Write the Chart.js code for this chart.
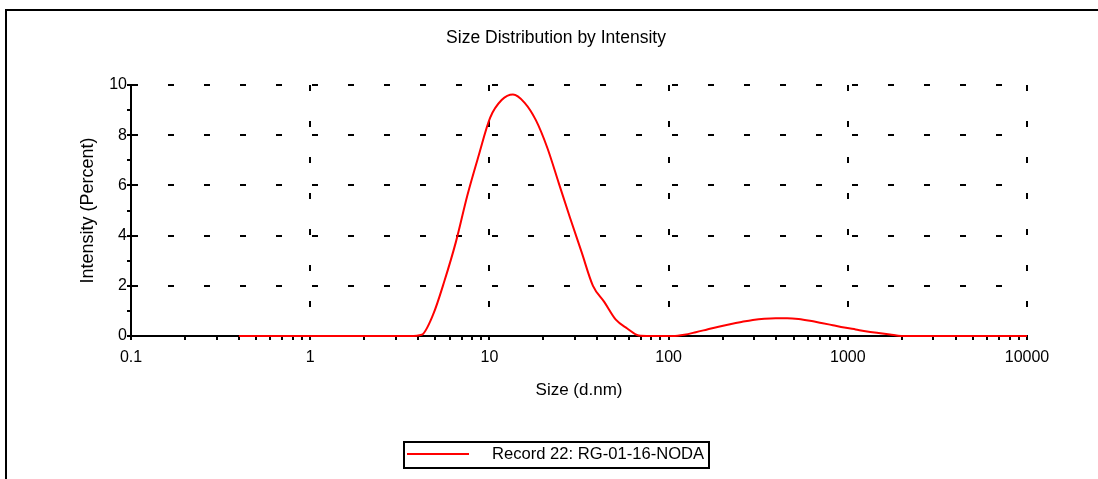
<!DOCTYPE html>
<html>
<head>
<meta charset="utf-8">
<script src="https://cdn.jsdelivr.net/npm/chart.js@4.4.1/dist/chart.umd.min.js"></script>
<style>
  body { margin: 0; background: #fff; }
  #wrap { position: relative; width: 1098px; height: 479px; overflow: hidden; }
  #frame { position: absolute; left: 5px; top: 9px; right: -10px; bottom: -10px;
           border-top: 2px solid #000; border-left: 2px solid #000; }
  canvas { position: absolute; left: 0; top: 0; }
  #legend { position: absolute; left: 403px; top: 441px; width: 303px; height: 24px;
            border: 2px solid #000; font: 16.6px "Liberation Sans", Arial, sans-serif; color: #000; }
  #legend .line { position: absolute; left: 2px; top: 9.5px; width: 62px; height: 2px; background: #ff0000; }
  #legend .text { position: absolute; left: 87px; top: 1px; line-height: 20px; white-space: nowrap; }
</style>
</head>
<body>
<div id="wrap">
  <div id="frame"></div>
  <canvas id="dls" width="1098" height="479"></canvas>
  <div id="legend"><span class="line"></span><span class="text"></span></div>
</div>
<script>
document.addEventListener("DOMContentLoaded", function () {

  // size classes (d.nm) and intensity (%)
  const sizes = [0.4, 0.4632, 0.5365, 0.6213, 0.7195, 0.8332, 0.965, 1.117, 1.294, 1.499,
    1.736, 2.01, 2.328, 2.696, 3.122, 3.615, 4.187, 4.849, 5.615, 6.503,
    7.531, 8.721, 10.1, 11.7, 13.54, 15.69, 18.17, 21.04, 24.36, 28.21,
    32.67, 37.84, 43.82, 50.75, 58.77, 68.06, 78.82, 91.28, 105.7, 122.4,
    141.8, 164.2, 190.1, 220.2, 255.0, 295.3, 342.0, 396.1, 458.7, 531.2,
    615.1, 712.4, 825.0, 955.4, 1106, 1281, 1484, 1718, 1990, 2305,
    2669, 3091, 3580, 4145, 4801, 5560, 6439, 7456, 8635, 10000];
  const intensity = [0, 0, 0, 0, 0, 0, 0, 0, 0, 0,
    0, 0, 0, 0, 0, 0, 0.05, 0.85, 2.2, 3.75,
    5.6, 7.2, 8.7, 9.4, 9.62, 9.3, 8.6, 7.5, 6.1, 4.7,
    3.35, 2.0, 1.35, 0.65, 0.3, 0.02, 0, 0, 0, 0.05,
    0.15, 0.26, 0.37, 0.47, 0.56, 0.64, 0.69, 0.71, 0.71, 0.68,
    0.61, 0.52, 0.43, 0.34, 0.26, 0.18, 0.12, 0.06, 0, 0,
    0, 0, 0, 0, 0, 0, 0, 0, 0, 0];

  const seriesLabel = 'Record 22: RG-01-16-NODA';
  const majorTicks = [0.1, 1, 10, 100, 1000, 10000];
  const minorSteps = [2, 3, 4, 5, 6, 7, 8, 9];

  // all x tick positions: decades + minor steps in between
  const xTickValues = [];
  majorTicks.forEach(function (d, i) {
    xTickValues.push(d);
    if (i < majorTicks.length - 1) {
      minorSteps.forEach(m => xTickValues.push(d * m));
    }
  });

  Chart.defaults.font.family = '"Liberation Sans", Arial, sans-serif';
  Chart.defaults.color = '#000';

  const ctx = document.getElementById('dls');
  const chart = new Chart(ctx, {
    type: 'line',
    data: {
      datasets: [{
        label: seriesLabel,
        data: sizes.map((s, i) => ({ x: s, y: intensity[i] })),
        borderColor: '#ff0000',
        borderWidth: 2,
        pointRadius: 0,
        fill: false,
        clip: false,
        cubicInterpolationMode: 'monotone'
      }]
    },
    options: {
      responsive: false,
      animation: false,
      layout: { padding: { left: 30, right: 16, top: 10, bottom: 0 } },
      plugins: {
        legend: { display: false },
        tooltip: { enabled: false },
        title: {
          display: true,
          text: 'Size Distribution by Intensity',
          color: '#000',
          font: { size: 17.5, weight: 'normal' },
          padding: { top: 17.5, bottom: 36.5 }
        }
      },
      scales: {
        x: {
          type: 'logarithmic',
          min: 0.1,
          max: 10000,
          afterBuildTicks: function (scale) {
            scale.ticks = xTickValues.map(v => ({ value: v }));
          },
          afterFit: function (scale) { scale.height = 143; },
          ticks: {
            autoSkip: false,
            maxRotation: 0,
            padding: 8,
            font: { size: 16 },
            callback: function (v) {
              return majorTicks.includes(v) ? String(v) : '';
            }
          },
          grid: {
            lineWidth: 2,
            tickLength: 4,
            tickWidth: 2,
            tickColor: '#000',
            color: function (c) {
              if (c.tick && majorTicks.includes(c.tick.value) && c.tick.value !== 0.1) return '#000';
              return 'rgba(0,0,0,0)';
            }
          },
          border: { display: true, color: '#000', width: 2, dash: [6, 30], dashOffset: 0, z: -1 },
          title: {
            display: true,
            text: 'Size (d.nm)',
            font: { size: 17 },
            padding: { top: 0, bottom: 78.8 }
          }
        },
        y: {
          min: 0,
          max: 10,
          afterFit: function (scale) { scale.width = 101; },
          ticks: {
            stepSize: 1,
            autoSkip: false,
            padding: 0,
            font: { size: 16 },
            callback: function (v) { return v % 2 === 0 ? String(v) : ''; }
          },
          grid: {
            lineWidth: 2,
            tickLength: 4,
            tickWidth: 2,
            tickColor: '#000',
            color: function (c) {
              if (c.tick && c.tick.value > 0 && c.tick.value % 2 === 0) return '#000';
              return 'rgba(0,0,0,0)';
            }
          },
          border: { display: true, color: '#000', width: 2, dash: [6, 30], dashOffset: 0, z: -1 },
          title: {
            display: true,
            text: 'Intensity (Percent)',
            font: { size: 18 },
            padding: { top: 47.2, bottom: 0 }
          }
        },
        // empty right-hand axis, only reserves room so the plot ends at 10000
        y2: {
          position: 'right',
          display: true,
          grid: { display: false },
          border: { display: false },
          ticks: { display: false },
          afterFit: function (scale) { scale.width = 55; }
        }
      }
    }
  });

  // html legend built from the dataset
  document.querySelector('#legend .text').textContent = chart.data.datasets[0].label;
  document.querySelector('#legend .line').style.background = chart.data.datasets[0].borderColor;
});
</script>
</body>
</html>
